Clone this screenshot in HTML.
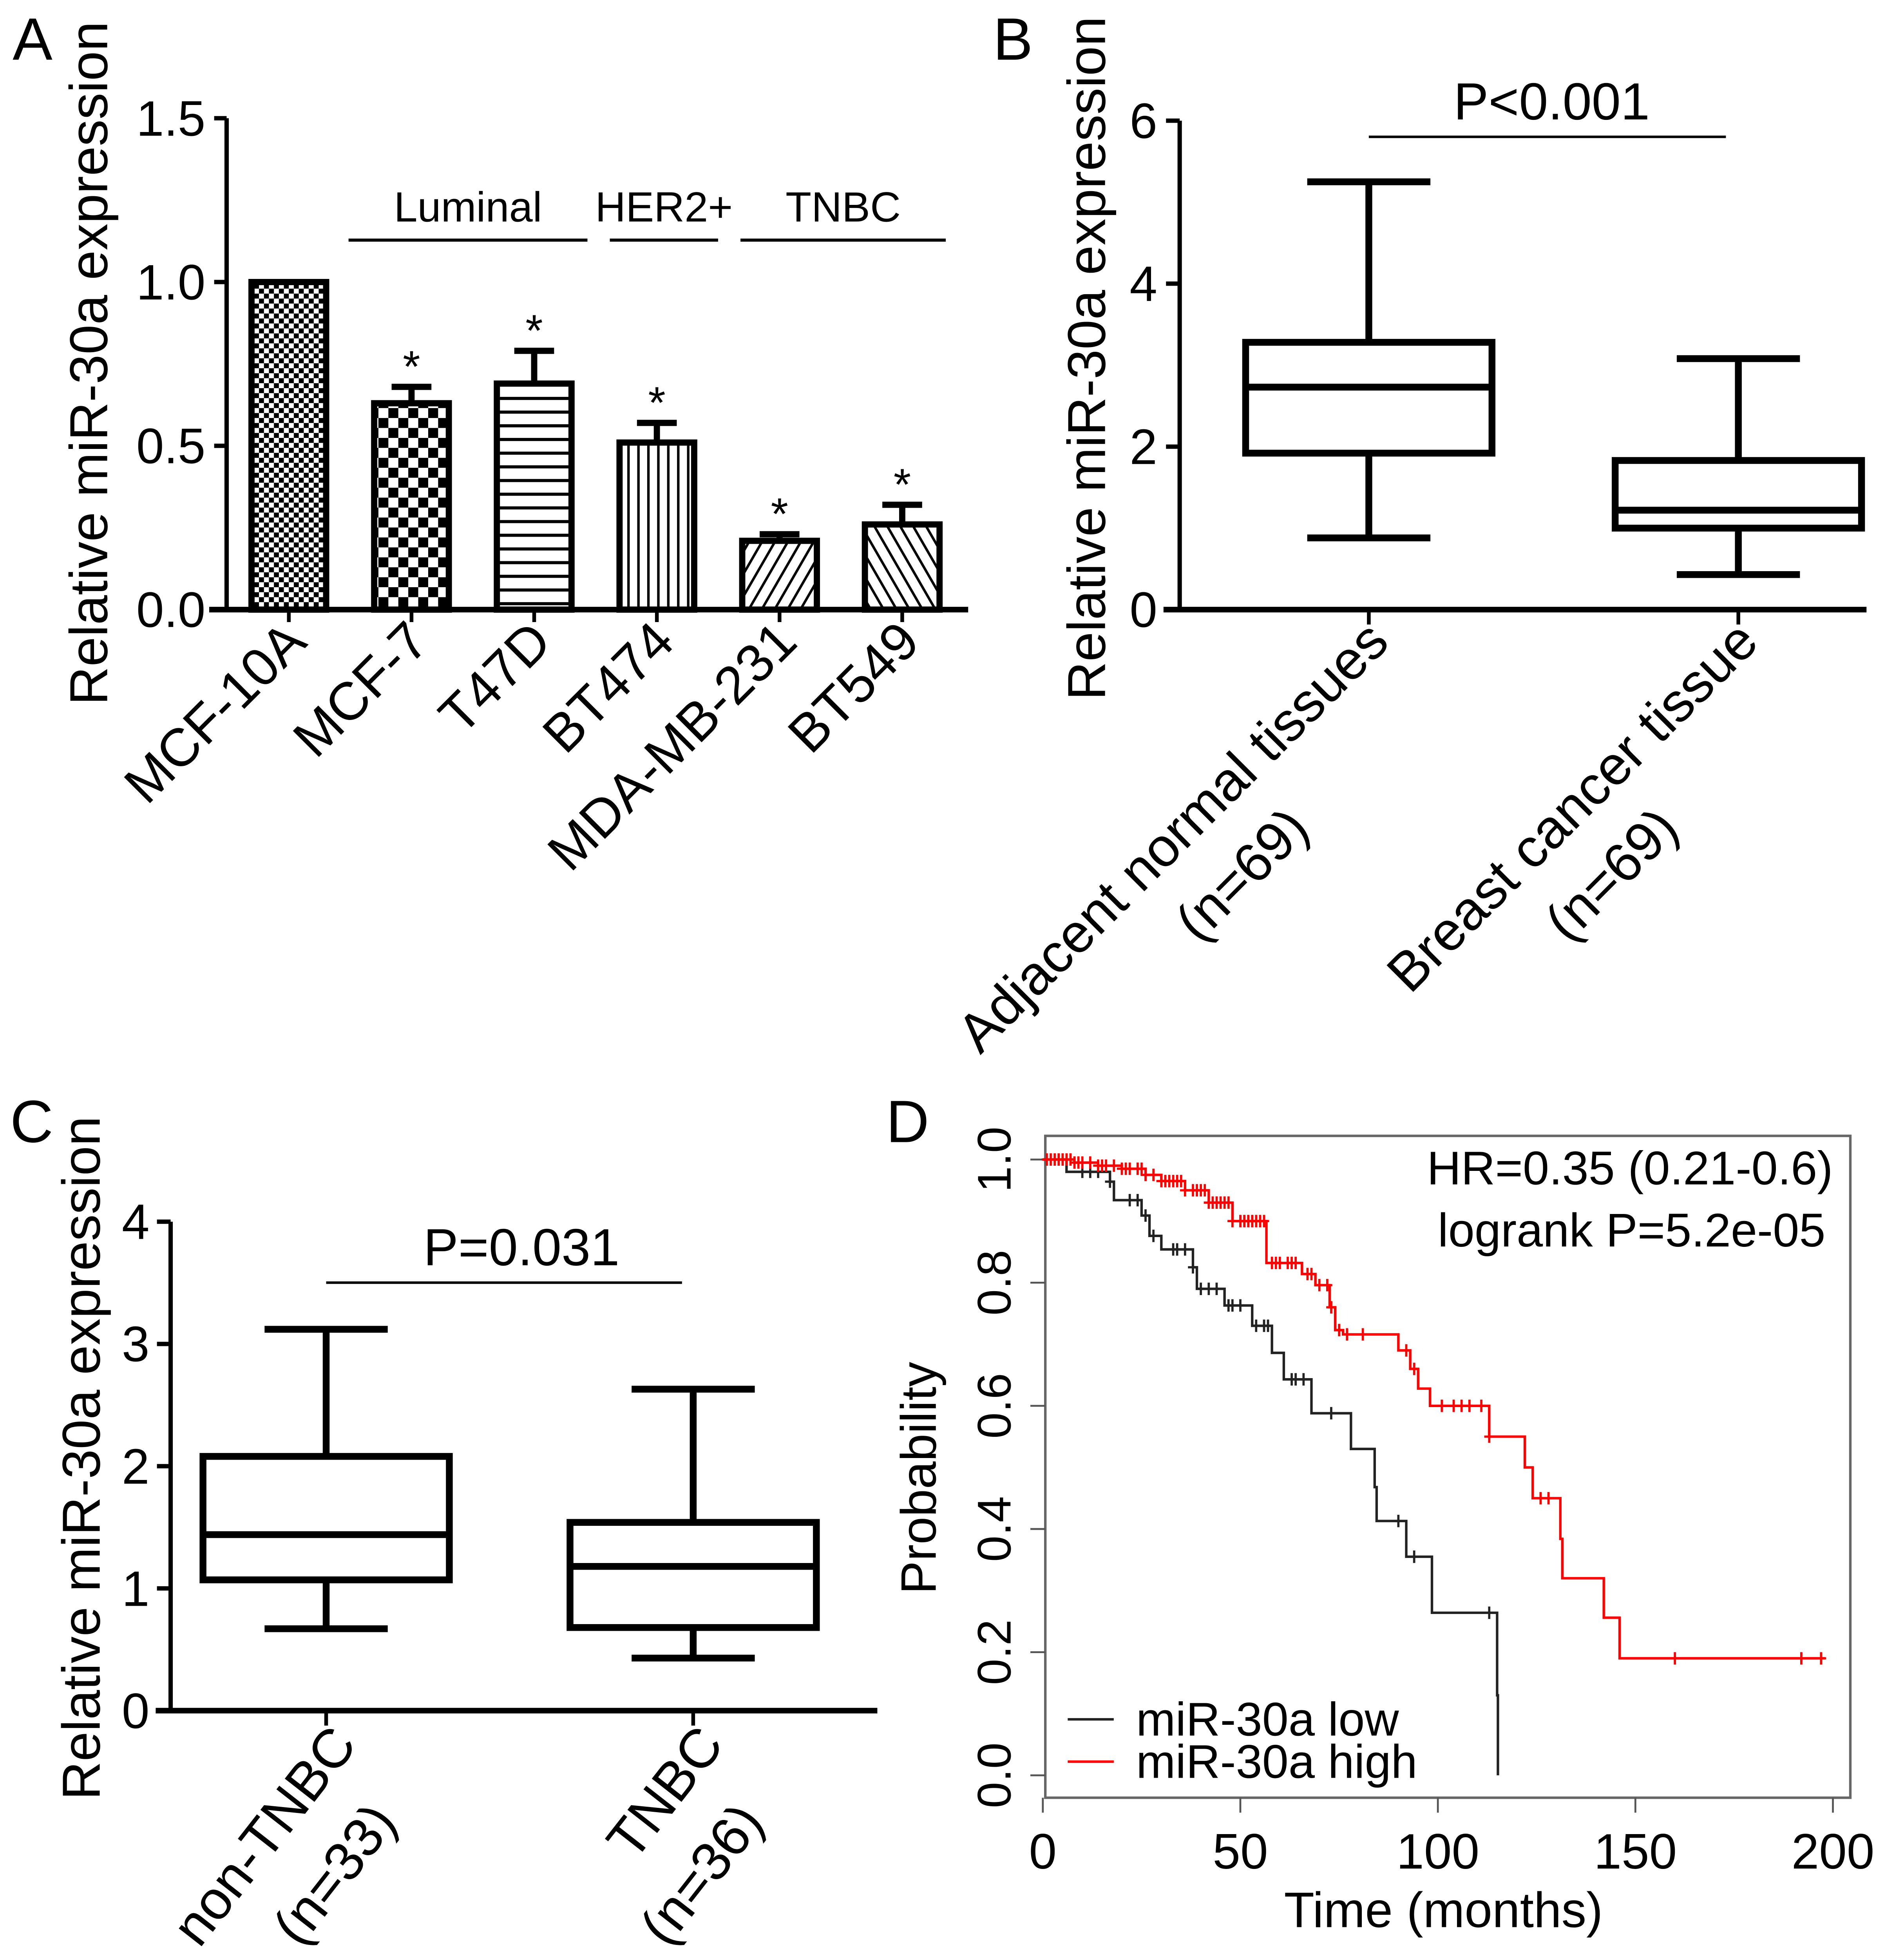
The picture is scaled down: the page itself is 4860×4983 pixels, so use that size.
<!DOCTYPE html>
<html><head><meta charset="utf-8"><style>
html,body{margin:0;padding:0;background:#fff}
svg{display:block}
text{font-family:"Liberation Sans",Arial,sans-serif;fill:#000}
</style></head><body>
<svg id="fig" xmlns="http://www.w3.org/2000/svg" width="4860" height="4983" viewBox="0 0 1530 1569">
<defs>
<pattern id="pFine" width="8" height="8" patternUnits="userSpaceOnUse"><rect width="8" height="8" fill="#fff"/><rect width="4" height="4" fill="#000"/><rect x="4" y="4" width="4" height="4" fill="#000"/></pattern>
<pattern id="pChk" width="16" height="16" patternUnits="userSpaceOnUse"><rect width="16" height="16" fill="#fff"/><rect width="8" height="8" fill="#000"/><rect x="8" y="8" width="8" height="8" fill="#000"/></pattern>
<pattern id="pH" width="10" height="11" patternUnits="userSpaceOnUse"><rect width="10" height="11" fill="#fff"/><rect y="0" width="10" height="2.5" fill="#000"/></pattern>
<pattern id="pV" width="8" height="10" patternUnits="userSpaceOnUse"><rect width="8" height="10" fill="#fff"/><rect x="0" width="2" height="10" fill="#000"/></pattern>
<pattern id="pD1" width="9" height="9" patternUnits="userSpaceOnUse" patternTransform="rotate(30)"><rect width="9" height="9" fill="#fff"/><rect width="2" height="9" fill="#000"/></pattern>
<pattern id="pD2" width="9" height="9" patternUnits="userSpaceOnUse" patternTransform="rotate(-30)"><rect width="9" height="9" fill="#fff"/><rect width="2" height="9" fill="#000"/></pattern>
</defs>
<g id="gA"></g>
<g id="gB"></g>
<g id="gC"></g>
<g id="gD"></g>
</svg>
<script>
// Panel A data
const aCats = ["MCF-10A","MCF-7","T47D","BT474","MDA-MB-231","BT549"];
const aVals = [1.0,0.63,0.69,0.51,0.21,0.26];
const aErrs = [0,0.05,0.10,0.06,0.02,0.06];
const aStars = [false,true,true,true,true,true];
const aTicks = [0,0.5,1.0,1.5];
const aTickLabels = ["0.0","0.5","1.0","1.5"];
const aFills = ["pFine","pChk","pH","pV","pD1","pD2"];
// Panel B data
const bCats = ["Adjacent normal tissues","Breast cancer tissue"];
const bN = ["(n=69)","(n=69)"];
const bMin = [0.88,0.43];
const bQ1 = [1.92,1.0];
const bMed = [2.73,1.22];
const bQ3 = [3.28,1.83];
const bMax = [5.25,3.08];
const bTicks = [0,2,4,6];
// Panel C data
const cCats = ["non-TNBC","TNBC"];
const cN = ["(n=33)","(n=36)"];
const cMin = [0.67,0.43];
const cQ1 = [1.07,0.68];
const cMed = [1.44,1.18];
const cQ3 = [2.08,1.54];
const cMax = [3.12,2.63];
const cTicks = [0,1,2,3,4];
// Panel D data (KM steps)
const lowT = [0,6,17,18,25,27,30,38,39,46,53,58,61,68,78,84,84.5,92,98.5,115,115.2];
const lowS = [1,0.98,0.964,0.934,0.909,0.876,0.854,0.825,0.79,0.763,0.73,0.686,0.643,0.588,0.53,0.468,0.413,0.355,0.264,0.13,0];
const lowCens = [10,12,14,17,22,24,26,28,33,34,36,38,40,42,44,47,48,50,54,56,57,63,64,66,73,90,94,113];
const highT = [0,8,14,20,26,30,36,42,48,56.6,65.6,69,72.6,74,76,90,93,95,98,113,122,124,131,131.5,142,146];
const highS = [1,0.995,0.99,0.985,0.975,0.965,0.95,0.93,0.90,0.832,0.814,0.796,0.76,0.723,0.716,0.69,0.66,0.628,0.60,0.55,0.50,0.45,0.384,0.32,0.256,0.19];
const highCens = [1,2,3,4,5,6,7,8,9,10,12,14,15,16,18,20,21,22,24,25,26,28,30,31,32,33,34,35,36,38,39,40,41,42,43,44,45,46,47,48,50,51,52,53,54,55,56,58,59,60,62,63,64,67,68,70,72,73,75,77,81,92,94,101,104,106,108,111,113,126,128,160,192,197];
const dXTicks = [0,50,100,150,200];
const dYTicks = [0,0.2,0.4,0.6,0.8,1.0];
const dYLabels = ["0.0","0.2","0.4","0.6","0.8","1.0"];

const NS="http://www.w3.org/2000/svg";
function el(tag, attrs, parent, txt){const e=document.createElementNS(NS,tag);for(const k in attrs)e.setAttribute(k,attrs[k]);if(txt!==undefined)e.textContent=txt;parent.appendChild(e);return e;}

// ---------- Panel A ----------
(function(){
const g=document.getElementById('gA');
const yA=v=>490-v*263.3;
const xA=i=>232+i*98.6;
let t=el('text',{x:10,y:48,'font-size':48},g,'A');

let ax=el('line',{x1:182,y1:95,x2:182,y2:492,stroke:'#000','stroke-width':3.5},g);

let xa=el('line',{x1:168,y1:490,x2:778,y2:490,stroke:'#000','stroke-width':4.5},g);

aTicks.forEach((v,i)=>{
  let l=el('line',{x1:172,y1:yA(v),x2:182,y2:yA(v),stroke:'#000','stroke-width':3.5},g);
  
  let tx=el('text',{x:165,y:yA(v)+14,'font-size':40,'text-anchor':'end'},g,aTickLabels[i]);
  
});
let yl=el('text',{x:0,y:0,'font-size':43,'text-anchor':'middle',transform:'translate(86,292) rotate(-90)'},g,'Relative miR-30a expression');

aVals.forEach((v,i)=>{
  const cx=xA(i),w=60;
  let r=el('rect',{x:cx-w/2,y:yA(v),width:w,height:490-yA(v),fill:'url(#'+aFills[i]+')',stroke:'#000','stroke-width':5},g);
  
  if(aErrs[i]>0){
    let e=el('path',{d:`M${cx},${yA(v)} V${yA(v+aErrs[i])} M${cx-16},${yA(v+aErrs[i])} H${cx+16}`,stroke:'#000','stroke-width':5,fill:'none'},g);
    
  }
  if(aStars[i]){
    let s=el('text',{x:cx,y:yA(v+aErrs[i])-4,'font-size':36,'text-anchor':'middle'},g,'*');
    
  }
  let tk=el('line',{x1:cx,y1:490,x2:cx,y2:500,stroke:'#000','stroke-width':3},g);
  
  let lb=el('text',{x:0,y:0,'font-size':43,'text-anchor':'end',transform:`translate(${cx+16},${518}) rotate(-45)`},g,aCats[i]);
  
});
[[280,472,'Luminal'],[490,577,'HER2+'],[595,760,'TNBC']].forEach(s=>{
  let l=el('line',{x1:s[0],y1:193,x2:s[1],y2:193,stroke:'#000','stroke-width':2.5},g);
  
  let tx=el('text',{x:(s[0]+s[1])/2,y:178,'font-size':34,'text-anchor':'middle'},g,s[2]);
  
});
})();

// ---------- Box helper ----------
function boxPanel(g,pre,y,cats,ns,mn,q1,md,q3,mx,xs,w,ang,lblOff){
  cats.forEach((c,i)=>{
    const cx=xs[i];
    let wh=el('path',{d:`M${cx},${y(mx[i])} V${y(q3[i])} M${cx},${y(q1[i])} V${y(mn[i])} M${cx-w*0.25},${y(mx[i])} H${cx+w*0.25} M${cx-w*0.25},${y(mn[i])} H${cx+w*0.25}`,stroke:'#000','stroke-width':5.5,fill:'none'},g);
    
    let b=el('rect',{x:cx-w/2,y:y(q3[i]),width:w,height:y(q1[i])-y(q3[i]),fill:'none',stroke:'#000','stroke-width':5.5},g);
    
    let m=el('line',{x1:cx-w/2,y1:y(md[i]),x2:cx+w/2,y2:y(md[i]),stroke:'#000','stroke-width':5.5},g);
    
    let tk=el('line',{x1:cx,y1:y(0),x2:cx,y2:y(0)+12,stroke:'#000','stroke-width':3},g);
    
    let l1=el('text',{x:0,y:0,'font-size':44,'text-anchor':'end',transform:`translate(${cx+lblOff[0]},${y(0)+lblOff[1]}) rotate(${ang})`},g,c);
    
    let l2=el('text',{x:0,y:0,'font-size':44,'text-anchor':'end',transform:`translate(${cx+lblOff[2]},${y(0)+lblOff[3]}) rotate(${ang})`},g,ns[i]);
    
  });
}

// ---------- Panel B ----------
(function(){
const g=document.getElementById('gB');
const y=v=>490-v*65.5;
let t=el('text',{x:798,y:48,'font-size':48},g,'B');

let ax=el('line',{x1:948,y1:97,x2:948,y2:492,stroke:'#000','stroke-width':3.5},g);

let xa=el('line',{x1:935,y1:490,x2:1500,y2:490,stroke:'#000','stroke-width':4.5},g);

bTicks.forEach(v=>{
  let l=el('line',{x1:937,y1:y(v),x2:948,y2:y(v),stroke:'#000','stroke-width':3.5},g);
  
  let tx=el('text',{x:930,y:y(v)+14,'font-size':40,'text-anchor':'end'},g,String(v));
  
});
let yl=el('text',{x:0,y:0,'font-size':43,'text-anchor':'middle',transform:'translate(888,288) rotate(-90)'},g,'Relative miR-30a expression');

boxPanel(g,'b',y,bCats,bN,bMin,bQ1,bMed,bQ3,bMax,[1100,1397],198,-45,[18,28,-46,178]);
let pl=el('line',{x1:1100,y1:110,x2:1387,y2:110,stroke:'#000','stroke-width':2},g);

let pt=el('text',{x:1247,y:96,'font-size':42,'text-anchor':'middle'},g,'P<0.001');

})();

// ---------- Panel C ----------
(function(){
const g=document.getElementById('gC');
const y=v=>1375-v*98.25;
let t=el('text',{x:8,y:918,'font-size':48},g,'C');

let ax=el('line',{x1:137,y1:982,x2:137,y2:1377,stroke:'#000','stroke-width':3.5},g);

let xa=el('line',{x1:125,y1:1375,x2:705,y2:1375,stroke:'#000','stroke-width':4.5},g);

cTicks.forEach(v=>{
  let l=el('line',{x1:126,y1:y(v),x2:137,y2:y(v),stroke:'#000','stroke-width':3.5},g);
  
  let tx=el('text',{x:120,y:y(v)+14,'font-size':40,'text-anchor':'end'},g,String(v));
  
});
let yl=el('text',{x:0,y:0,'font-size':43,'text-anchor':'middle',transform:'translate(80,1172) rotate(-90)'},g,'Relative miR-30a expression');

boxPanel(g,'c',y,cCats,cN,cMin,cQ1,cMed,cQ3,cMax,[262,557],198,-52,[26,28,58,90]);
let pl=el('line',{x1:262,y1:1031,x2:548,y2:1031,stroke:'#000','stroke-width':2},g);

let pt=el('text',{x:419,y:1017,'font-size':42,'text-anchor':'middle'},g,'P=0.031');

})();

// ---------- Panel D ----------
(function(){
const g=document.getElementById('gD');
const x=t=>838+t*3.175;
const y=s=>1427-s*495;
let t=el('text',{x:712,y:918,'font-size':48},g,'D');

let fr=el('rect',{x:840,y:913,width:647,height:532,fill:'none',stroke:'#666','stroke-width':2},g);

dYTicks.forEach((v,i)=>{
  let l=el('line',{x1:828,y1:y(v),x2:840,y2:y(v),stroke:'#555','stroke-width':1.5},g);
  
  let tx=el('text',{x:0,y:0,'font-size':38,'text-anchor':'middle',transform:`translate(812,${y(v)}) rotate(-90)`},g,dYLabels[i]);
  
});
dXTicks.forEach(v=>{
  let l=el('line',{x1:x(v),y1:1445,x2:x(v),y2:1457,stroke:'#555','stroke-width':1.5},g);
  
  let tx=el('text',{x:x(v),y:1502,'font-size':40,'text-anchor':'middle'},g,String(v));
  
});
let xt=el('text',{x:1160,y:1549,'font-size':40,'text-anchor':'middle'},g,'Time (months)');

let ytl=el('text',{x:0,y:0,'font-size':40,'text-anchor':'middle',transform:'translate(752,1188) rotate(-90)'},g,'Probability');

function survAt(T,S,tt){let s=S[0];for(let i=0;i<T.length;i++){if(T[i]<=tt)s=S[i];}return s;}
function curve(T,S,end,col,name,cens){
  let d=`M${x(T[0])},${y(S[0])}`;
  for(let i=1;i<T.length;i++){d+=` H${x(T[i])} V${y(S[i])}`;}
  if(end>T[T.length-1]) d+=` H${x(end)}`;
  let p=el('path',{d:d,fill:'none',stroke:col,'stroke-width':2},g);
  
  cens.forEach(c=>{
    const cx=x(c),cy=y(survAt(T,S,c));
    let m=el('path',{d:`M${cx-4},${cy} H${cx+4} M${cx},${cy-5} V${cy+5}`,stroke:col,'stroke-width':1.8,fill:'none'},g);
    
  });
}
curve(lowT,lowS,115.2,'#222','km-curve-low',lowCens);
curve(highT,highS,198,'#f00','km-curve-high',highCens);
let h1=el('text',{x:1473,y:952,'font-size':38,'text-anchor':'end'},g,'HR=0.35 (0.21-0.6)');

let h2=el('text',{x:1467,y:1002,'font-size':38,'text-anchor':'end'},g,'logrank P=5.2e-05');

[['miR-30a low','#222',1382],['miR-30a high','#f00',1416]].forEach(L=>{
  let l=el('line',{x1:858,y1:L[2],x2:895,y2:L[2],stroke:L[1],'stroke-width':2},g);
  
  let tx=el('text',{x:913,y:L[2]+13,'font-size':38},g,L[0]);
  
});
})();
</script>
</body></html>
